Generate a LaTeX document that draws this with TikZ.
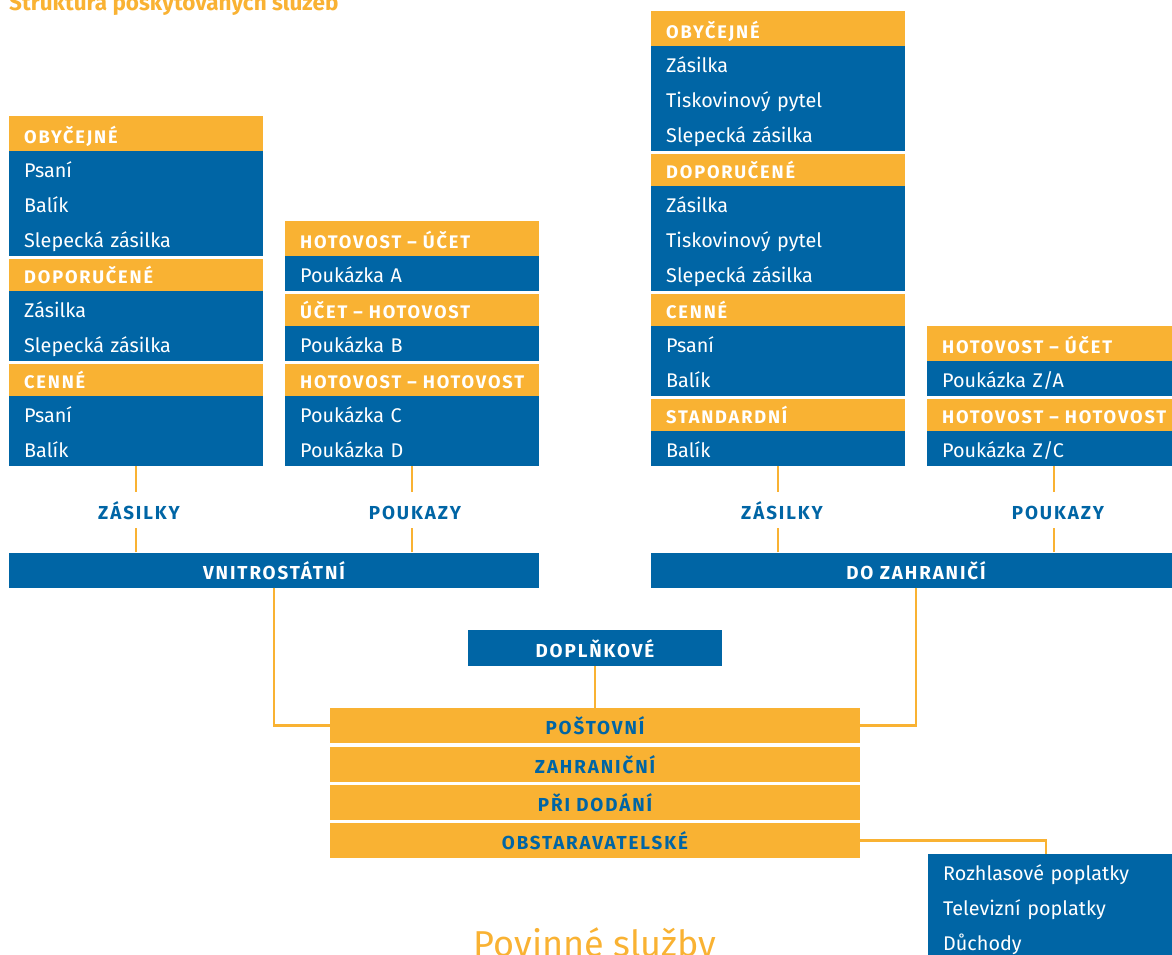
\documentclass[tikz,border=0pt]{standalone}
\usepackage{fontspec}
\setmainfont{Fira Sans}
\newfontfamily\capsfont{Fira Sans}[LetterSpace=10]
\definecolor{postorange}{HTML}{F9B233}
\definecolor{postblue}{HTML}{0065A5}

\begin{document}
\begin{tikzpicture}[x=1pt,y=-1pt,
  row/.style={fill=postblue,text=white,anchor=north west,minimum height=35pt,
    text width=224pt,inner xsep=15pt,inner ysep=0pt,align=left,
    text height=18.5pt,text depth=1.5pt,font=\fontsize{19.8}{22}\selectfont},
  head/.style={row,fill=postorange,text height=20.5pt,
    font=\capsfont\bfseries\fontsize{18.2}{20}\selectfont},
  bar/.style={fill=postblue,text=white,minimum height=35pt,inner sep=0pt,
    text height=19pt,text depth=1pt,font=\capsfont\bfseries\fontsize{18.8}{20}\selectfont},
  obox/.style={bar,fill=postorange,text=postblue,minimum width=530pt},
  tag/.style={text=postblue,inner sep=0pt,anchor=base,
    font=\capsfont\bfseries\fontsize{18.8}{20}\selectfont},
  link/.style={draw=postorange,line width=2.5pt},
  gap/.style={draw=white,line width=3pt}]
\useasboundingbox (0,0) rectangle (1172,955);

\node[anchor=base west,inner sep=0pt,text=postorange,
  font=\bfseries\fontsize{22.5}{24}\selectfont] (title) at (9,11) {Struktura poskytovaných služeb};

% vnitrostatni
\foreach \k/\t [count=\i] in {head/OBYČEJNÉ,row/Psaní,row/Balík,row/Slepecká zásilka,
  head/DOPORUČENÉ,row/Zásilka,row/Slepecká zásilka,head/CENNÉ,row/Psaní,row/Balík} {
\node[\k] (zv\i) at (9,{116+35*(\i-1)}) {\t};
}
\foreach \k/\t [count=\i] in {head/{\mbox{HOTOVOST – ÚČET}},row/Poukázka A,
  head/{\mbox{ÚČET – HOTOVOST}},row/Poukázka B,head/{\mbox{HOTOVOST – HOTOVOST}},
  row/Poukázka C,row/Poukázka D} {
\node[\k] (pv\i) at (285,{221+35*(\i-1)}) {\t};
}

% do zahranici
\foreach \k/\t [count=\i] in {head/OBYČEJNÉ,row/Zásilka,row/Tiskovinový pytel,row/Slepecká zásilka,
  head/DOPORUČENÉ,row/Zásilka,row/Tiskovinový pytel,row/Slepecká zásilka,
  head/CENNÉ,row/Psaní,row/Balík,head/STANDARDNÍ,row/Balík} {
\node[\k] (zz\i) at (651,{11+35*(\i-1)}) {\t};
}
\foreach \k/\t [count=\i] in {head/{\mbox{HOTOVOST – ÚČET}},row/{Poukázka Z/A},
  head/{\mbox{HOTOVOST – HOTOVOST}},row/{Poukázka Z/C}} {
\node[\k] (pz\i) at (927,{326+35*(\i-1)}) {\t};
}

\foreach \n in {zv5,zv8,pv3,pv5,zz5,zz9,zz12,pz3} {
\draw[gap] ([yshift=-1.5pt]\n.north west) -- ([yshift=-1.5pt]\n.north east);
}

\node[bar,minimum width=530pt] (vnitro) at (274,570) {VNITROSTÁTNÍ};
\node[bar,minimum width=530pt] (zahr) at (916,570) {DO ZAHRANIČÍ};

\node[tag] (lzv) at (139,519) {ZÁSILKY};
\node[tag] (lpv) at (415,519) {POUKAZY};
\node[tag] (lzz) at (782,519) {ZÁSILKY};
\node[tag] (lpz) at (1058,519) {POUKAZY};

\draw[link] (zv10.south) -- ++(0,26);
\draw[link] (vnitro.north -| zv10.south) -- ++(0,-24);
\draw[link] (pv7.south) -- ++(0,26);
\draw[link] (vnitro.north -| pv7.south) -- ++(0,-24);
\draw[link] (zz13.south) -- ++(0,26);
\draw[link] (zahr.north -| zz13.south) -- ++(0,-24);
\draw[link] (pz4.south) -- ++(0,26);
\draw[link] (zahr.north -| pz4.south) -- ++(0,-24);

% doplnkove
\node[bar,minimum width=254pt,minimum height=36pt] (dopl) at (595,648) {DOPLŇKOVÉ};
\node[obox,anchor=north] (post) at (595,708) {POŠTOVNÍ};
\node[obox,anchor=north] (zahrdop) at (595,746.3) {ZAHRANIČNÍ};
\node[obox,anchor=north] (pridod) at (595,784.7) {PŘI DODÁNÍ};
\node[obox,anchor=north] (obst) at (595,823) {OBSTARAVATELSKÉ};

\foreach \t [count=\i] in {Rozhlasové poplatky,Televizní poplatky,Důchody} {
\node[row] (fee\i) at (928,{854+35*(\i-1)}) {\t};
}

\draw[link] (vnitro.south) |- (post.west);
\draw[link] (zahr.south) |- (post.east);
\draw[link] (dopl.south) -- (post.north);
\draw[link] (obst.east) -| ([xshift=-9pt]fee1.north);

\node[anchor=base,inner sep=0pt,text=postorange,font=\fontsize{36}{40}\selectfont]
  (duty) at (595,956) {Povinné služby};
\end{tikzpicture}
\end{document}
